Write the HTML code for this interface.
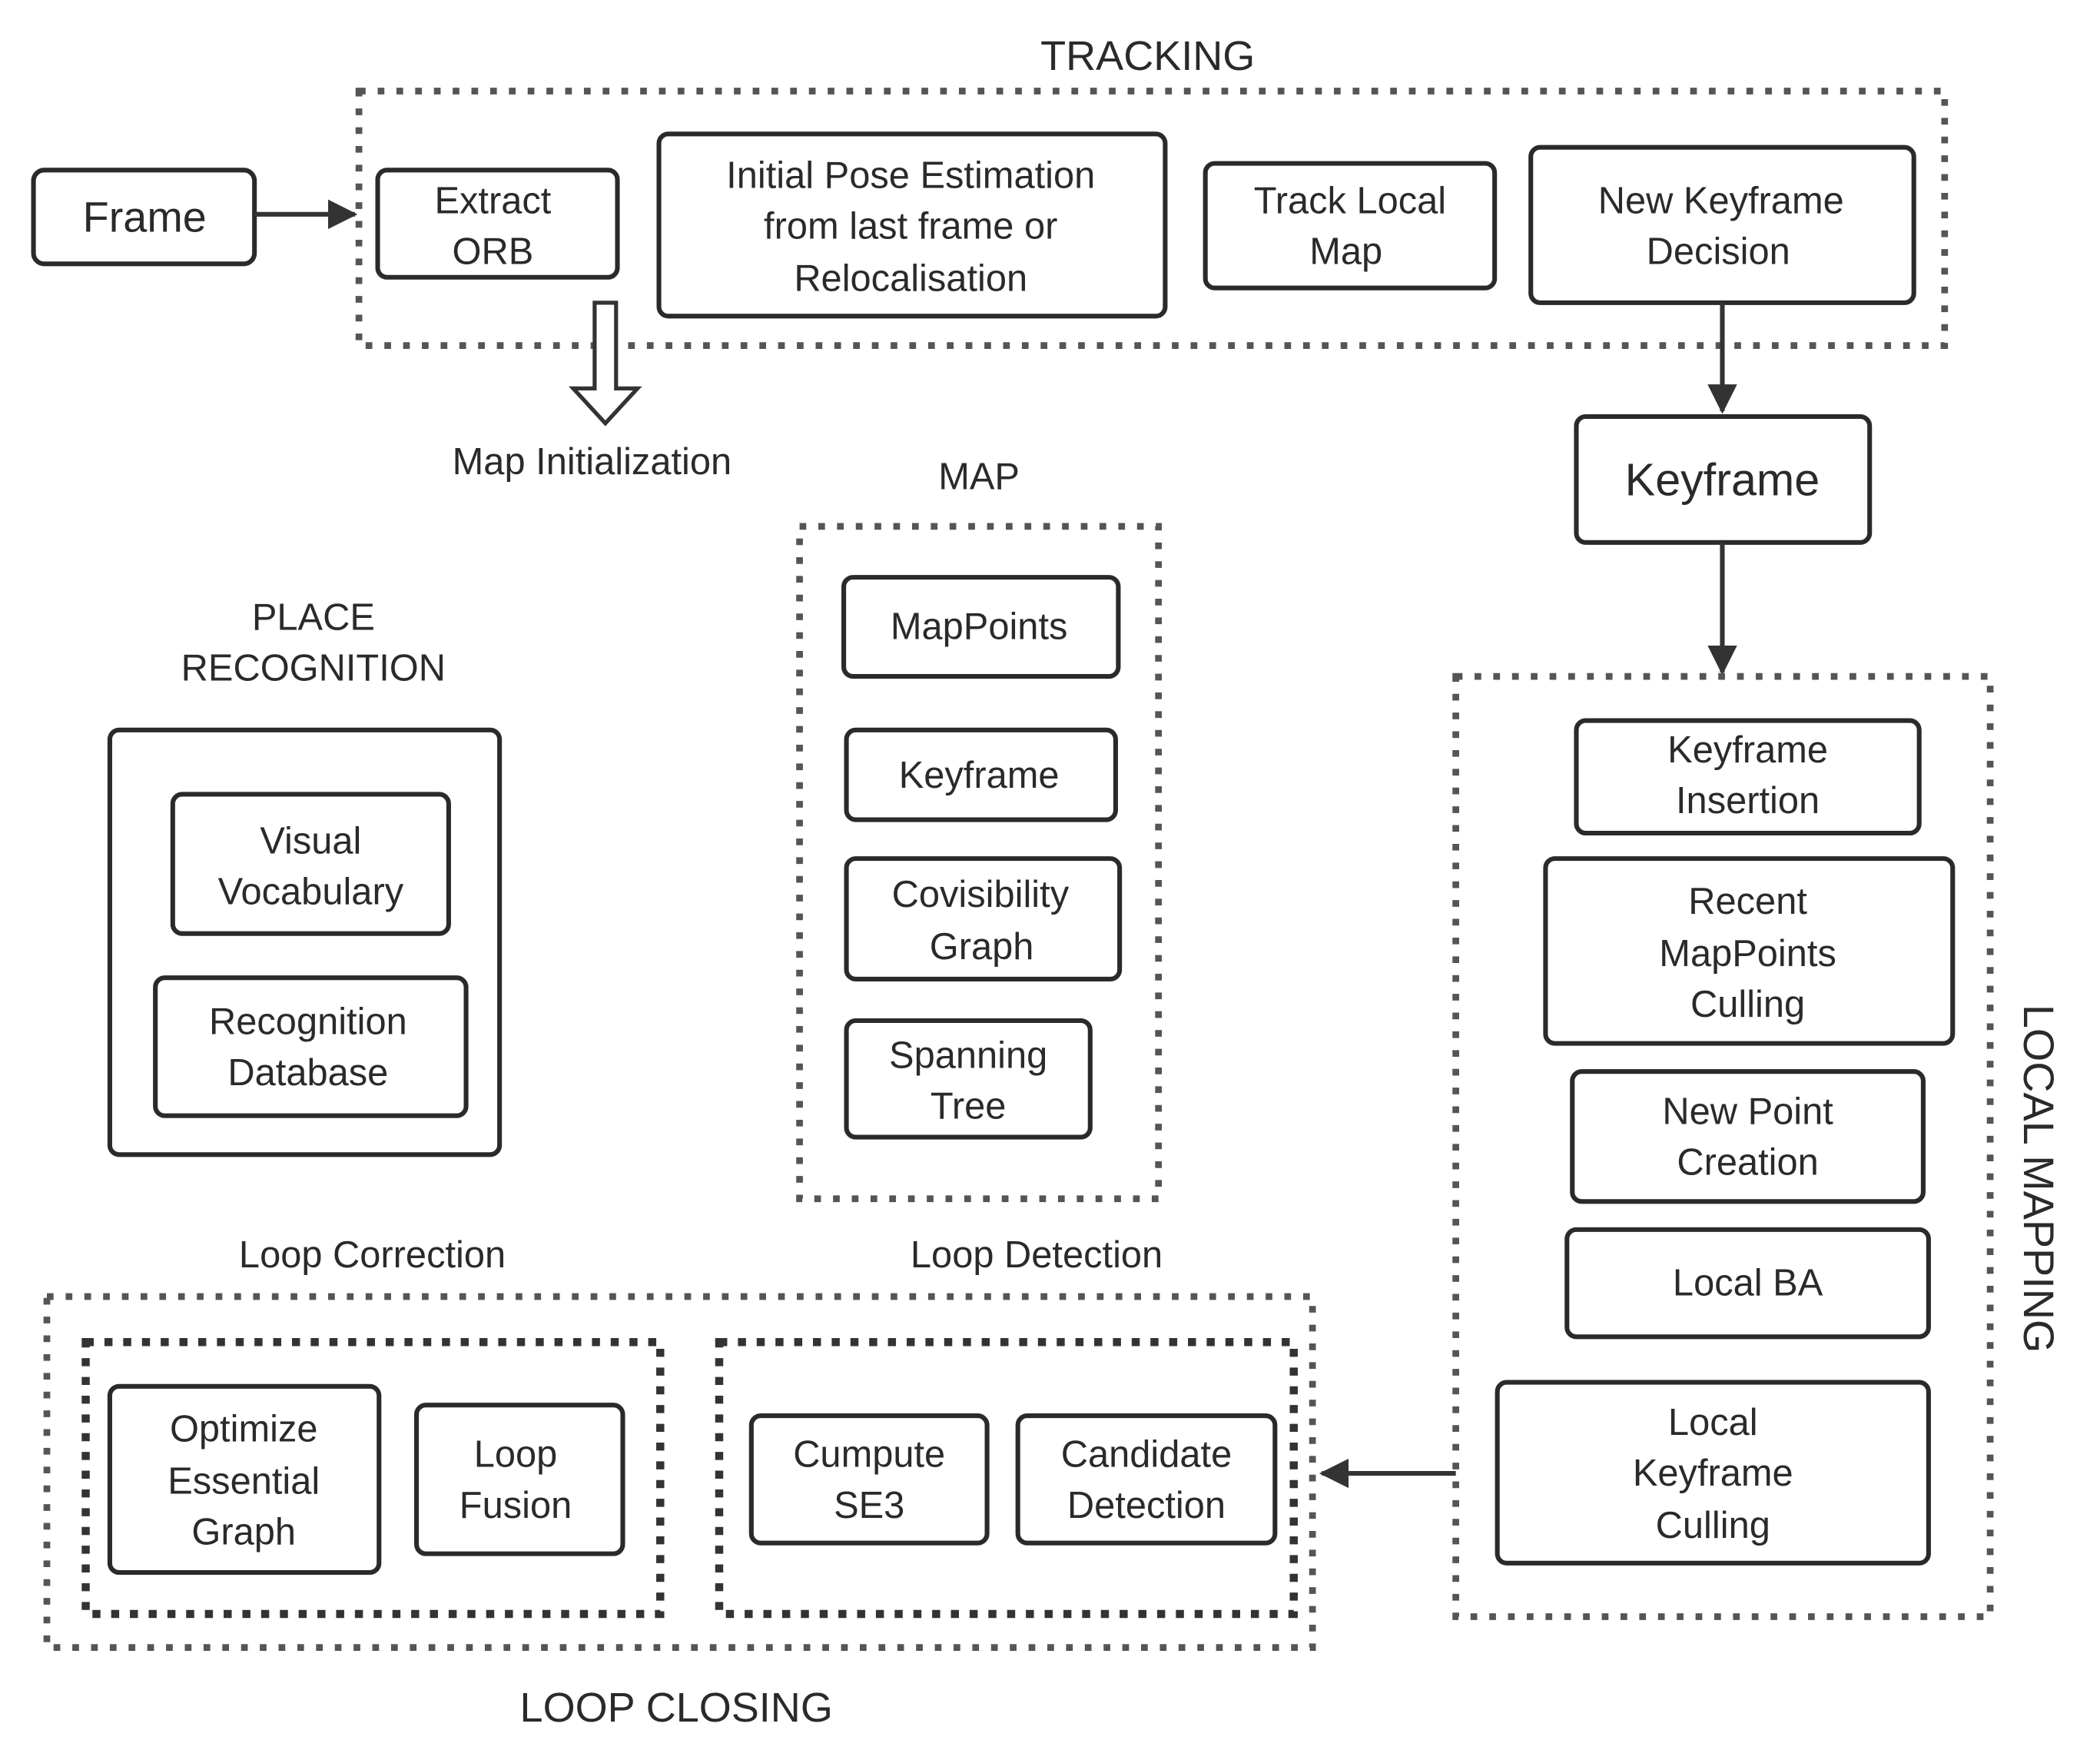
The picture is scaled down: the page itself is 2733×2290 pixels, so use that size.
<!DOCTYPE html>
<html><head><meta charset="utf-8"><style>
html,body{margin:0;padding:0;background:#fff;}
svg{display:block;}
text{font-family:"Liberation Sans",sans-serif;fill:#2a2a2a;text-anchor:middle;dominant-baseline:central;font-size:28px;}
.b{fill:#fff;stroke:#2a2a2a;stroke-width:3.5;}
.d{fill:none;stroke:#555;stroke-width:5;stroke-dasharray:5 9;}
.d2{fill:none;stroke:#333;stroke-width:6;stroke-dasharray:6 8;}
.l{stroke:#333;stroke-width:3.5;fill:none;}
</style></head><body>
<svg width="2733" height="2290" viewBox="0 0 1568 1314" preserveAspectRatio="none" xmlns="http://www.w3.org/2000/svg">
<defs>
<marker id="h" markerWidth="22" markerHeight="22" refX="20" refY="11" orient="auto" markerUnits="userSpaceOnUse" viewBox="0 0 22 22"><path d="M0,0 L22,11 L0,22z" fill="#333"/></marker></defs>

<text x="857" y="42" style="font-size:31px">TRACKING</text>
<rect class="d" x="268" y="68" width="1184" height="190"/>
<rect class="b" x="25" y="127" width="165" height="70" rx="8"/><text x="108" y="162" style="font-size:32px">Frame</text>
<line class="l" x1="190" y1="160" x2="265" y2="160" marker-end="url(#h)"/>
<rect class="b" x="282" y="127" width="179" height="80" rx="7"/><text x="368" y="150">Extract</text><text x="368" y="188">ORB</text>
<rect class="b" x="492" y="100" width="378" height="136" rx="7"/><text x="680" y="131">Initial Pose Estimation</text><text x="680" y="169">from last frame or</text><text x="680" y="208">Relocalisation</text>
<rect class="b" x="900" y="122" width="216" height="93" rx="7"/><text x="1008" y="150">Track Local</text><text x="1005" y="188">Map</text>
<rect class="b" x="1143" y="110" width="286" height="116" rx="7"/><text x="1285" y="150">New Keyframe</text><text x="1283" y="188">Decision</text>
<path d="M444,226 L460,226 L460,290 L476,290 L452,316 L428,290 L444,290 Z" fill="#fff" stroke="#333" stroke-width="3"/>
<text x="442" y="345">Map Initialization</text>
<line class="l" x1="1286" y1="226" x2="1286" y2="307" marker-end="url(#h)"/>
<rect class="b" x="1177" y="311" width="219" height="94" rx="7"/><text x="1286" y="358" style="font-size:34px">Keyframe</text>
<line class="l" x1="1286" y1="405" x2="1286" y2="502" marker-end="url(#h)"/>

<text x="731" y="356">MAP</text>
<rect class="d" x="597" y="393" width="268" height="502"/>
<rect class="b" x="630" y="431" width="205" height="74" rx="7"/><text x="731" y="468">MapPoints</text>
<rect class="b" x="632" y="545" width="201" height="67" rx="7"/><text x="731" y="579">Keyframe</text>
<rect class="b" x="632" y="641" width="204" height="90" rx="7"/><text x="732" y="668">Covisibility</text><text x="733" y="707">Graph</text>
<rect class="b" x="632" y="762" width="182" height="87" rx="7"/><text x="723" y="788">Spanning</text><text x="723" y="826">Tree</text>

<text x="234" y="461">PLACE</text><text x="234" y="499">RECOGNITION</text>
<rect class="b" x="82" y="545" width="291" height="317" rx="7"/>
<rect class="b" x="129" y="593" width="206" height="104" rx="7"/><text x="232" y="628">Visual</text><text x="232" y="666">Vocabulary</text>
<rect class="b" x="116" y="730" width="232" height="103" rx="7"/><text x="230" y="763">Recognition</text><text x="230" y="801">Database</text>

<rect class="d" x="1087" y="505" width="399" height="702"/>
<rect class="b" x="1177" y="538" width="256" height="84" rx="7"/><text x="1305" y="560">Keyframe</text><text x="1305" y="598">Insertion</text>
<rect class="b" x="1154" y="641" width="304" height="138" rx="7"/><text x="1305" y="673">Recent</text><text x="1305" y="712">MapPoints</text><text x="1305" y="750">Culling</text>
<rect class="b" x="1174" y="800" width="262" height="97" rx="7"/><text x="1305" y="830">New Point</text><text x="1305" y="868">Creation</text>
<rect class="b" x="1170" y="918" width="270" height="80" rx="7"/><text x="1305" y="958">Local BA</text>
<rect class="b" x="1118" y="1032" width="322" height="135" rx="7"/><text x="1279" y="1062">Local</text><text x="1279" y="1100">Keyframe</text><text x="1279" y="1139">Culling</text>
<text x="1522" y="880" transform="rotate(90 1522 880)" style="font-size:32px">LOCAL MAPPING</text>
<line class="l" x1="1087" y1="1100" x2="987" y2="1100" marker-end="url(#h)"/>

<text x="278" y="937">Loop Correction</text><text x="774" y="937">Loop Detection</text>
<rect class="d" x="35" y="968" width="945" height="262"/>
<rect class="d2" x="64" y="1002" width="429" height="203"/>
<rect class="d2" x="537" y="1002" width="429" height="203"/>
<rect class="b" x="82" y="1035" width="201" height="139" rx="7"/><text x="182" y="1067">Optimize</text><text x="182" y="1106">Essential</text><text x="182" y="1144">Graph</text>
<rect class="b" x="311" y="1049" width="154" height="111" rx="7"/><text x="385" y="1086">Loop</text><text x="385" y="1124">Fusion</text>
<rect class="b" x="561" y="1057" width="176" height="95" rx="7"/><text x="649" y="1086">Cumpute</text><text x="649" y="1124">SE3</text>
<rect class="b" x="760" y="1057" width="192" height="95" rx="7"/><text x="856" y="1086">Candidate</text><text x="856" y="1124">Detection</text>
<text x="505" y="1275" style="font-size:31px">LOOP CLOSING</text>
</svg>
</body></html>
